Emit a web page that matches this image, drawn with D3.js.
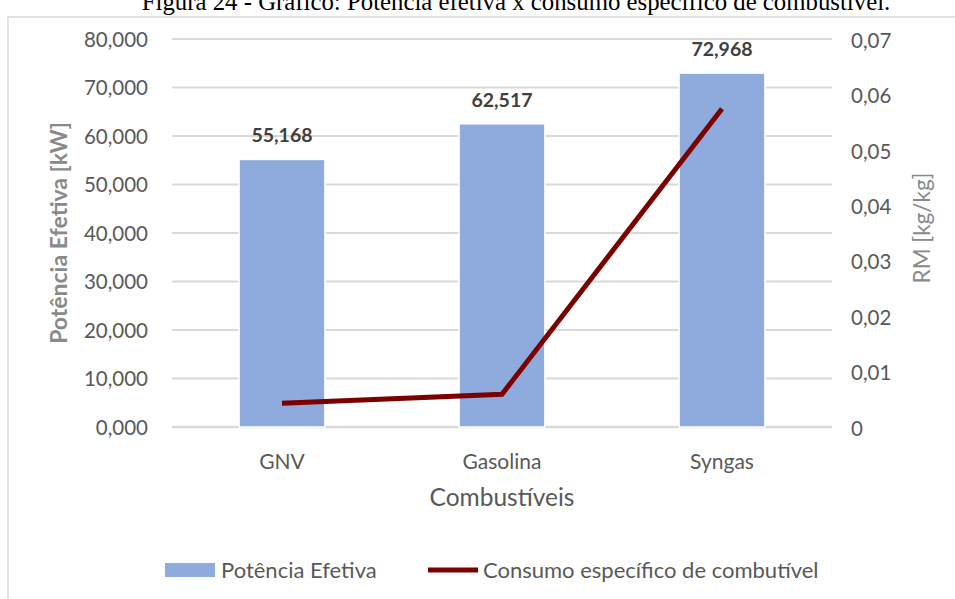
<!DOCTYPE html>
<html>
<head>
<meta charset="utf-8">
<script src="https://cdn.jsdelivr.net/npm/d3@7"></script>
<style>
  body { margin: 0; background: #fff; }
  svg text { font-family: Lato, "Open Sans", sans-serif; }
</style>
</head>
<body>
<svg id="chart" width="955" height="599"></svg>
<script>
// dados
const categorias = ['GNV', 'Gasolina', 'Syngas'];
const potenciaEfetiva = [55.168, 62.517, 72.968];
const consumoEspecifico = [0.0043, 0.0059, 0.0574];
const ticksEsq = [0, 10, 20, 30, 40, 50, 60, 70, 80];
const ticksDir = [0, 0.01, 0.02, 0.03, 0.04, 0.05, 0.06, 0.07];

const pt = d3.formatLocale({decimal: ',', thousands: '.', grouping: [3], currency: ['R$', '']});
const fmtEsq = pt.format('.3f'),
      fmtDir = v => v === 0 ? '0' : pt.format('.2f')(v);

const svg = d3.select('#chart');
const m = {left: 172, right: 832, top: 39, bottom: 427};
const cinza = '#595959', grade = '#d9d9d9';

// moldura e título (cortado no topo, como no original)
svg.append('rect')
    .attr('x', 8).attr('y', 17).attr('width', 1000).attr('height', 700)
    .attr('fill', 'none').attr('stroke', '#d9d9d9').attr('stroke-width', 1.5);
svg.append('text')
    .attr('x', 516).attr('y', 10)
    .attr('text-anchor', 'middle')
    .style('font-family', '"Liberation Serif", serif')
    .style('font-size', '24.8px')
    .attr('fill', '#000')
    .text('Figura 24 - Gráfico: Potência efetiva x consumo específico de combustível.');

const x = d3.scaleBand().domain(categorias).range([m.left, m.right]).paddingInner(0.61).paddingOuter(0.305);
const y = d3.scaleLinear().domain([0, 80]).range([m.bottom, m.top]);
const y2 = d3.scaleLinear().domain([0, 0.07]).range([m.bottom, m.top]);

// grade
svg.append('g').selectAll('line').data(ticksEsq).join('line')
    .attr('x1', m.left).attr('x2', m.right)
    .attr('y1', d => y(d)).attr('y2', d => y(d))
    .attr('stroke', grade).attr('stroke-width', d => d === 0 ? 2.5 : 2);

// eixo esquerdo
const eixoEsq = svg.append('g')
    .attr('transform', `translate(${m.left - 24},0)`)
    .call(d3.axisLeft(y).tickValues(ticksEsq).tickFormat(fmtEsq).tickSize(0).tickPadding(0));
eixoEsq.select('.domain').remove();
eixoEsq.selectAll('text').attr('fill', cinza).style('font-size', '20.5px').attr('dy', '0.35em');

// eixo direito
const eixoDir = svg.append('g')
    .attr('transform', `translate(${m.right + 19},0)`)
    .call(d3.axisRight(y2).tickValues(ticksDir).tickFormat(fmtDir).tickSize(0).tickPadding(0));
eixoDir.select('.domain').remove();
eixoDir.selectAll('text').attr('fill', cinza).style('font-size', '20.5px').attr('dy', '0.4em');

// barras
svg.append('g').selectAll('rect').data(categorias).join('rect')
    .attr('x', d => x(d))
    .attr('width', x.bandwidth())
    .attr('y', (d, i) => y(potenciaEfetiva[i]))
    .attr('height', (d, i) => y(0) - y(potenciaEfetiva[i]))
    .attr('fill', '#8faadc')
    .attr('stroke', '#fff').attr('stroke-width', 1.5);

// rótulos das barras
svg.append('g').selectAll('text').data(categorias).join('text')
    .attr('x', d => x(d) + x.bandwidth() / 2)
    .attr('y', (d, i) => y(potenciaEfetiva[i]) - 17)
    .attr('text-anchor', 'middle')
    .attr('fill', '#404040')
    .style('font-size', '19.5px').style('font-weight', 'bold')
    .text((d, i) => fmtEsq(potenciaEfetiva[i]));

// linha de consumo
const linha = d3.line()
    .x((d, i) => x(categorias[i]) + x.bandwidth() / 2)
    .y(d => y2(d));
svg.append('path')
    .datum(consumoEspecifico)
    .attr('d', linha)
    .attr('fill', 'none')
    .attr('stroke', '#7b0000')
    .attr('stroke-width', 5);

// rótulos de categoria
svg.append('g').selectAll('text').data(categorias).join('text')
    .attr('x', d => x(d) + x.bandwidth() / 2)
    .attr('y', 469)
    .attr('text-anchor', 'middle')
    .attr('fill', cinza)
    .style('font-size', '21px')
    .text(d => d);

svg.append('text')
    .attr('x', (m.left + m.right) / 2).attr('y', 506)
    .attr('text-anchor', 'middle')
    .attr('fill', cinza)
    .style('font-size', '24.5px')
    .text('Combustíveis');

// títulos dos eixos
svg.append('text')
    .attr('transform', 'translate(67,233) rotate(-90)')
    .attr('text-anchor', 'middle')
    .attr('fill', '#8a8a8a')
    .style('font-size', '23px').style('font-weight', 'bold')
    .text('Potência Efetiva [kW]');
svg.append('text')
    .attr('transform', 'translate(930,228) rotate(-90)')
    .attr('text-anchor', 'middle')
    .attr('fill', '#8a8a8a')
    .style('font-size', '22.5px')
    .text('RM [kg/kg]');

// legenda
const leg = svg.append('g');
leg.append('rect')
    .attr('x', 165).attr('y', 563).attr('width', 50).attr('height', 14)
    .attr('fill', '#8faadc');
leg.append('text')
    .attr('x', 221).attr('y', 578)
    .attr('fill', cinza).style('font-size', '22px')
    .text('Potência Efetiva');
leg.append('line')
    .attr('x1', 428).attr('x2', 478).attr('y1', 570).attr('y2', 570)
    .attr('stroke', '#7b0000').attr('stroke-width', 5);
leg.append('text')
    .attr('x', 483).attr('y', 578)
    .attr('fill', cinza).style('font-size', '22px')
    .text('Consumo específico de combutível');
</script>
</body>
</html>
